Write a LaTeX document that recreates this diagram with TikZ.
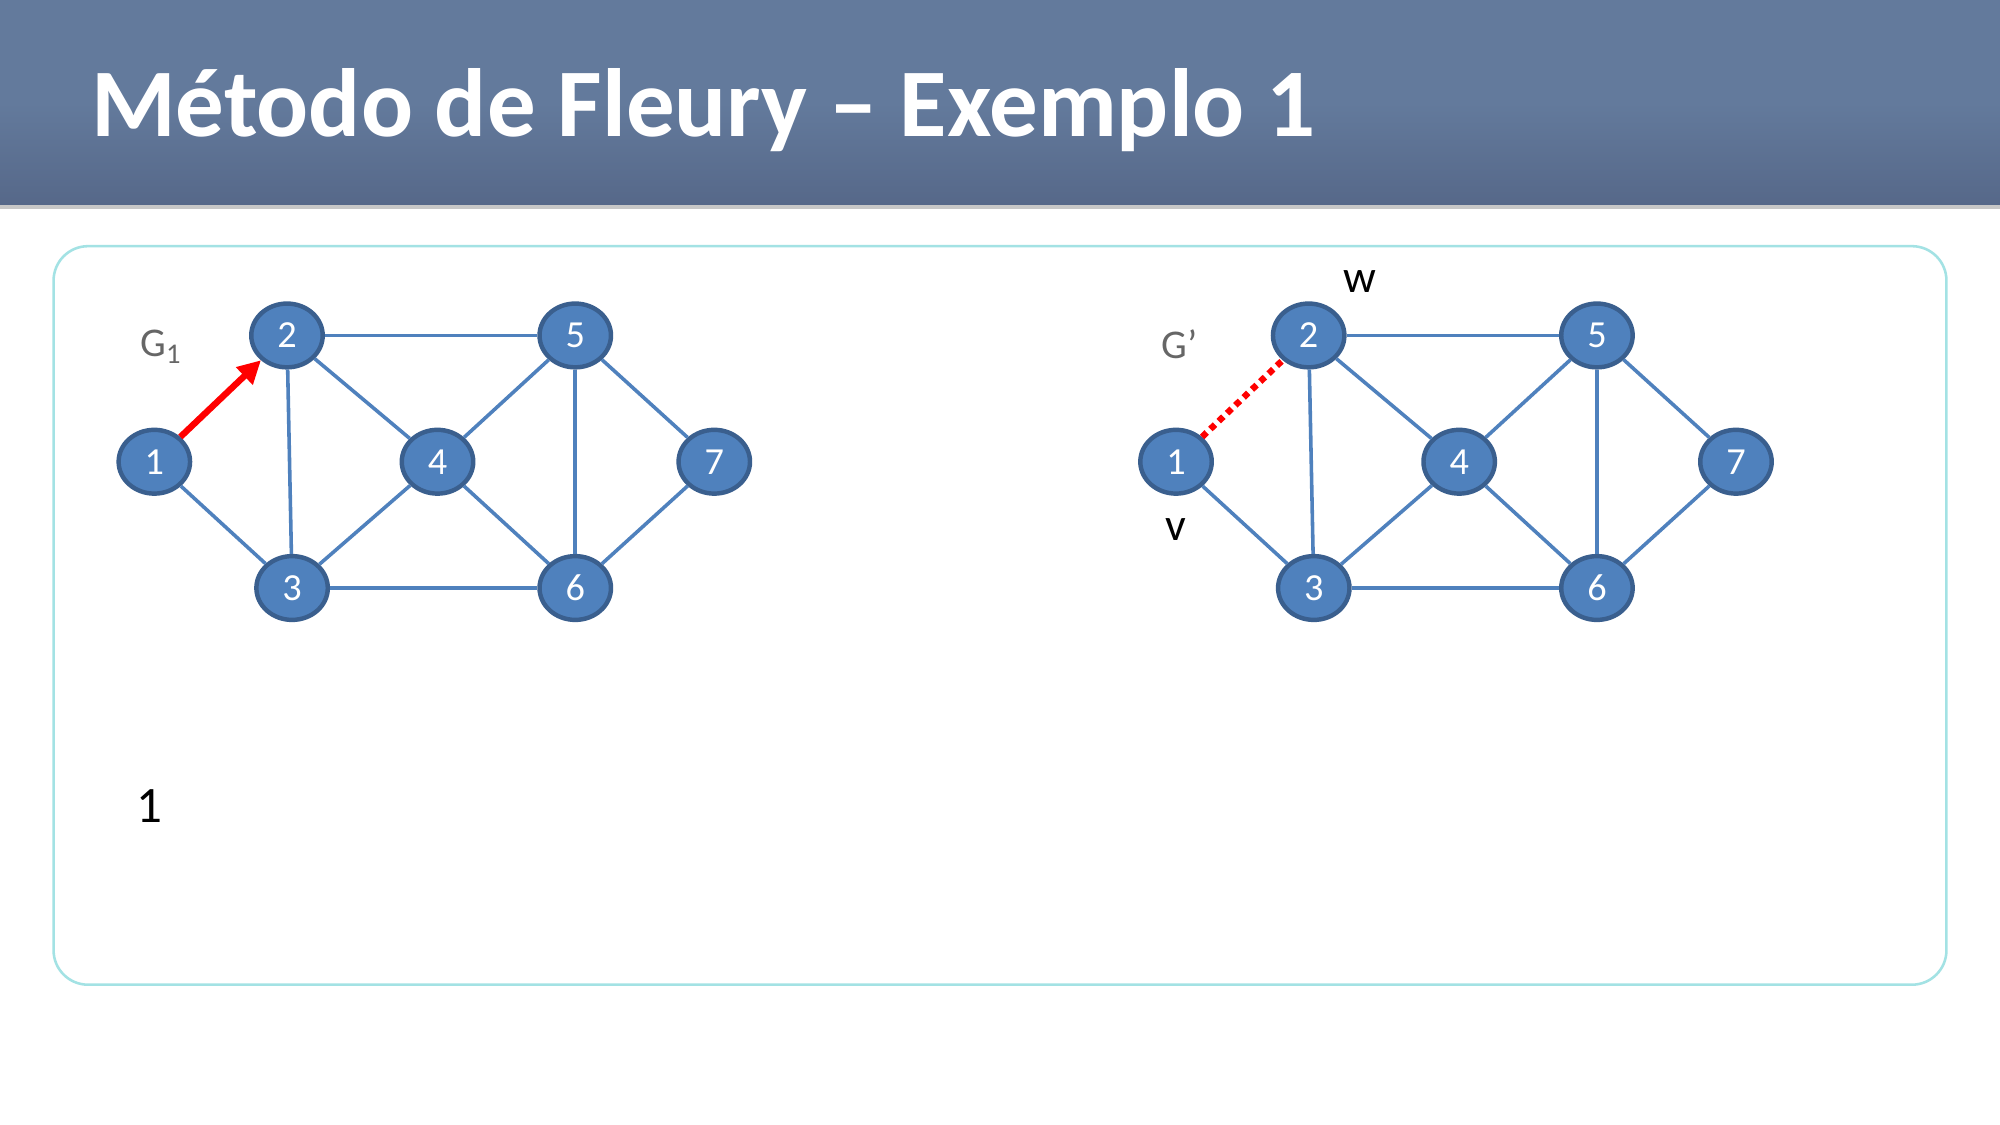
\documentclass[tikz,border=0pt]{standalone}
\usepackage{fontspec}
\setmainfont{Carlito}
\usepackage{xcolor}
\usetikzlibrary{arrows.meta,shapes.geometric}

\definecolor{bartop}{HTML}{637A9C}
\definecolor{barbottom}{HTML}{566889}
\definecolor{nodefill}{HTML}{4F81BD}
\definecolor{nodeline}{HTML}{3A5F8E}
\definecolor{framecyan}{HTML}{A3E2E4}
\definecolor{labelgray}{HTML}{666666}

\tikzset{
  vertex/.style={ellipse, draw=nodeline, line width=3.5pt, fill=nodefill,
    minimum width=56pt, minimum height=50pt, inner sep=0pt,
    text=white, font=\fontsize{30}{34}\selectfont},
  edge/.style={draw=nodefill, line width=2.8pt},
  walk/.style={draw=red, line width=5pt, -{Triangle[length=18pt,width=18pt]}},
  probe/.style={draw=red, line width=5pt, dash pattern=on 5pt off 4pt},
  tag/.style={font=\fontsize{32}{36}\selectfont}
}

\begin{document}
\begin{tikzpicture}[x=1pt, y=-1pt]
  \useasboundingbox (0,0) rectangle (1568,882);
  \fill[white] (0,0) rectangle (1568,882);

  % Title bar
  \shade[top color=bartop, bottom color=barbottom, middle color=bartop]
    (0,0) rectangle (1568,161);
  \fill[black!22] (0,161) rectangle (1568,163.5);
  \node[anchor=base west, text=white, font=\fontsize{76}{80}\selectfont\bfseries]
    (title) at (68,107) {Método de Fleury – Exemplo 1};

  % Frame
  \draw[framecyan, line width=2pt, rounded corners=27pt] (42,193) rectangle (1526,772);

  % Nodes G1
  \node[vertex] (a1) at (121,362) {1};
  \node[vertex] (a2) at (225,263) {2};
  \node[vertex] (a3) at (229,461) {3};
  \node[vertex] (a4) at (343,362) {4};
  \node[vertex] (a5) at (451,263) {5};
  \node[vertex] (a6) at (451,461) {6};
  \node[vertex] (a7) at (560,362) {7};
  \node[tag, text=labelgray] (ga) at (126,272) {G\textsubscript{1}};

  % Edges G1
  \draw[edge] (a1) -- (a3);
  \draw[edge] (a2) -- (a3);
  \draw[edge] (a2) -- (a4);
  \draw[edge] (a2) -- (a5);
  \draw[edge] (a3) -- (a4);
  \draw[edge] (a3) -- (a6);
  \draw[edge] (a4) -- (a5);
  \draw[edge] (a4) -- (a6);
  \draw[edge] (a5) -- (a6);
  \draw[edge] (a5) -- (a7);
  \draw[edge] (a6) -- (a7);
  \draw[walk] (a1) -- (a2);

  % Nodes G'
  \node[vertex] (b1) at (922,362) {1};
  \node[vertex] (b2) at (1026,263) {2};
  \node[vertex] (b3) at (1030,461) {3};
  \node[vertex] (b4) at (1144,362) {4};
  \node[vertex] (b5) at (1252,263) {5};
  \node[vertex] (b6) at (1252,461) {6};
  \node[vertex] (b7) at (1361,362) {7};
  \node[tag, text=labelgray] (gb) at (925,270) {G’};
  \node[tag, font=\fontsize{36}{40}\selectfont] (w) at (1066,221) {w};
  \node[tag, font=\fontsize{36}{40}\selectfont] (v) at (922,415) {v};

  % Edges G'
  \draw[edge] (b1) -- (b3);
  \draw[edge] (b2) -- (b3);
  \draw[edge] (b2) -- (b4);
  \draw[edge] (b2) -- (b5);
  \draw[edge] (b3) -- (b4);
  \draw[edge] (b3) -- (b6);
  \draw[edge] (b4) -- (b5);
  \draw[edge] (b4) -- (b6);
  \draw[edge] (b5) -- (b6);
  \draw[edge] (b5) -- (b7);
  \draw[edge] (b6) -- (b7);
  \draw[probe] (b1) -- (b2);

  % Step counter
  \node[font=\fontsize{40}{44}\selectfont] (step1) at (117,632) {1};
\end{tikzpicture}
\end{document}
